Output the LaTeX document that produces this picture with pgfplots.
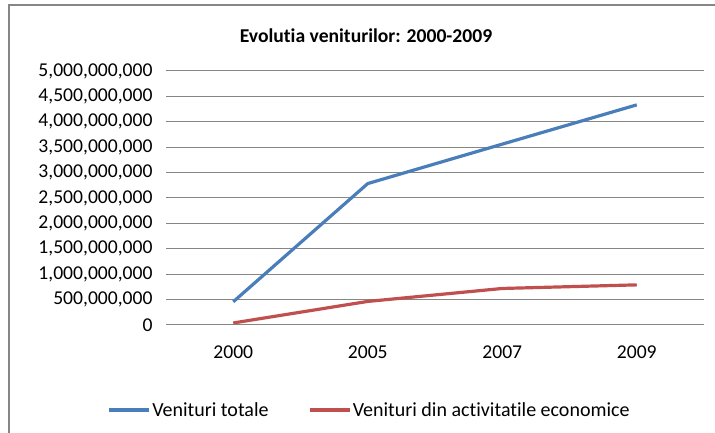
\documentclass[border=0pt]{standalone}
\usepackage{pgfplots}
\pgfplotsset{compat=1.18}
\usepackage{fontspec}
\setmainfont{Carlito}[Ligatures=NoCommon]
\definecolor{exblue}{RGB}{74,126,187}
\definecolor{exred}{RGB}{192,80,77}
\definecolor{gridgray}{RGB}{134,134,134}
\definecolor{bordergray}{RGB}{134,134,134}
\begin{document}
\begin{tikzpicture}[x=1bp,y=1bp]
\path[use as bounding box] (0,0) rectangle (715,433);
\draw[bordergray, line width=1.5bp] (9,-2) -- (9,428) -- (717,428);
\node[font=\fontsize{19.6bp}{21bp}\selectfont\bfseries] at (366,397) {Evolutia veniturilor: 2000-2009};
\begin{axis}[
  at={(166bp,108bp)}, anchor=south west,
  scale only axis, width=538bp, height=254bp,
  xmin=-0.5, xmax=3.5, ymin=0, ymax=5000000000,
  scaled y ticks=false,
  xtick={0,1,2,3}, xticklabels={2000,2005,2007,2009},
  ytick={0,500000000,1000000000,1500000000,2000000000,2500000000,3000000000,3500000000,4000000000,4500000000,5000000000},
  yticklabels={0,{500,000,000},{1,000,000,000},{1,500,000,000},{2,000,000,000},{2,500,000,000},{3,000,000,000},{3,500,000,000},{4,000,000,000},{4,500,000,000},{5,000,000,000}},
  ymajorgrids, grid style={gridgray, line width=1bp},
  axis line style={draw=none}, major tick style={draw=none},
  /pgf/number format/assume math mode=true,
  tick label style={font=\fontsize{19.6bp}{22bp}\selectfont},
  xticklabel style={yshift=-17bp},
  yticklabel style={xshift=-10bp},
  clip=false,
  legend style={at={(0.378,-0.3346)}, anchor=center, draw=none, fill=none,
    legend columns=2, font=\fontsize{20bp}{22bp}\selectfont,
    /tikz/every even column/.append style={column sep=38bp},
    nodes={inner sep=1.5bp}},
  legend cell align=left,
  legend image code/.code={\draw[#1] (0bp,0bp) -- (40bp,0bp);},
]
\addplot[exblue, line width=3.2bp] coordinates {(0,457000000) (1,2784000000) (2,3560000000) (3,4333000000)};
\addlegendentry{Venituri totale}
\addplot[exred, line width=3.2bp] coordinates {(0,40000000) (1,464000000) (2,719000000) (3,790000000)};
\addlegendentry{Venituri din activitatile economice}
\end{axis}
\end{tikzpicture}
\end{document}
